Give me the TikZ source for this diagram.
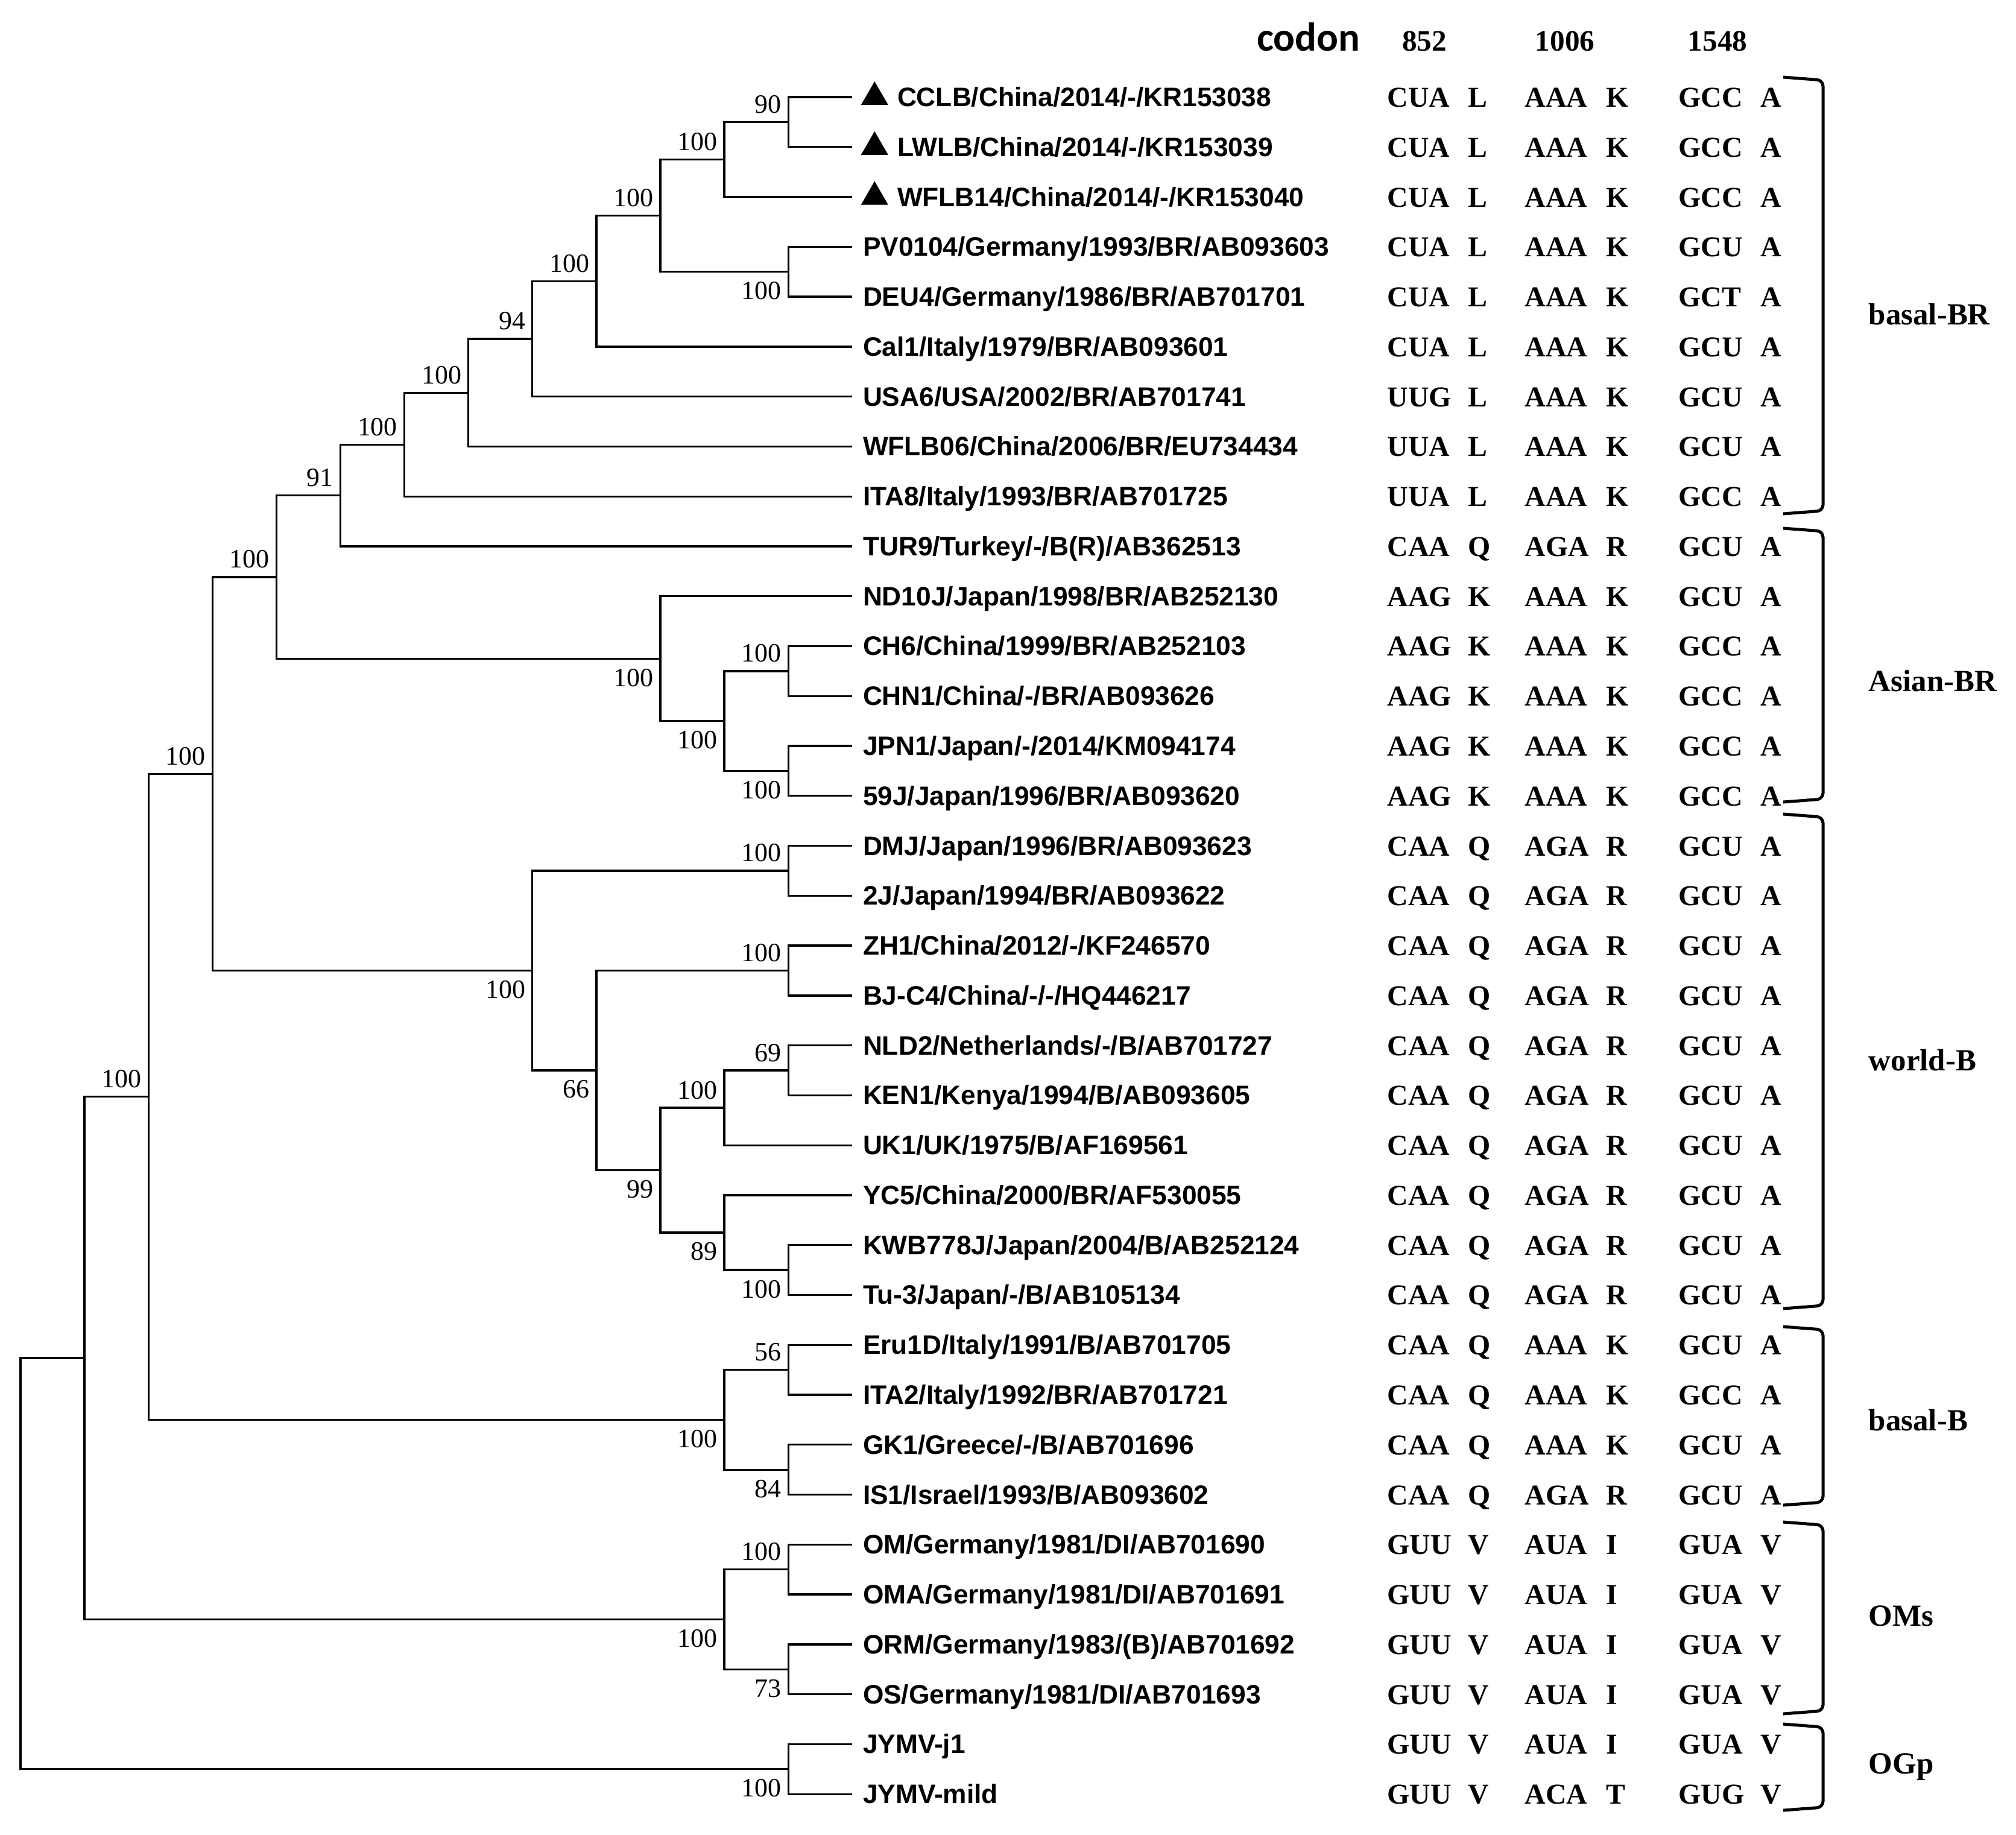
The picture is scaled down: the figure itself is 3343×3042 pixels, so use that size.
\documentclass[tikz,border=0pt]{standalone}
\usepackage{fontspec}
\setmainfont{Liberation Serif}
\setsansfont{Liberation Sans}
\newfontfamily\calibrifont{Carlito}
\usetikzlibrary{calc,positioning,shapes.geometric}
\tikzset{
    branch/.style = {
        line width=0.33mm,
        },
    taxon/.style = {
        anchor=base west,
        inner sep=0pt,
        yshift=-1.55mm,
        font=\sffamily\bfseries\fontsize{12.6}{14}\selectfont,
        },
    new isolate/.style = {
        regular polygon,
        regular polygon sides=3,
        fill=black,
        inner sep=0pt,
        minimum size=5.2mm,
        },
    boot above/.style = {
        anchor=base east,
        inner sep=0pt,
        xshift=-1.1mm,
        yshift=1.5mm,
        font=\fontsize{12.5}{14}\selectfont,
        },
    boot below/.style = {
        anchor=north east,
        inner sep=0pt,
        xshift=-1.1mm,
        yshift=-1.6mm,
        font=\fontsize{12.5}{14}\selectfont,
        },
    codon/.style = {
        anchor=base west,
        inner sep=0pt,
        yshift=-1.65mm,
        font=\bfseries\fontsize{13.6}{16}\selectfont,
        },
    site/.style = {
        anchor=base,
        inner sep=0pt,
        font=\bfseries\fontsize{14}{16}\selectfont,
        },
    clade/.style = {
        line width=0.5mm,
        rounded corners=1mm,
        },
    clade name/.style = {
        anchor=base west,
        inner sep=0pt,
        font=\bfseries\fontsize{14.5}{16}\selectfont,
        },
}

\begin{document}
\begin{tikzpicture}[x=0.1mm, y=-0.1mm]
    \useasboundingbox (0,0) rectangle (3343,3042);

    % tree: x = level, y = row
    \begin{scope}[shift={(34,161)}, x=10.61mm, y=-8.277mm]
        \foreach \row in {0,...,34}
            \coordinate (tip\row) at (13,\row);
        \coordinate (cl) at (12,0.5);
        \coordinate (chn) at (11,1.25);
        \coordinate (deu) at (12,3.5);
        \coordinate (br4) at (10,2.375);
        \coordinate (br5) at (9,3.6875);
        \coordinate (br6) at (8,4.84375);
        \coordinate (br7) at (7,5.921875);
        \coordinate (br8) at (6,6.9609375);
        \coordinate (basalBR) at (5,7.98046875);
        \coordinate (ch6) at (12,11.5);
        \coordinate (jpn) at (12,13.5);
        \coordinate (asJ) at (11,12.5);
        \coordinate (asianBR) at (10,11.25);
        \coordinate (BR) at (4,9.615234);
        \coordinate (dmj) at (12,15.5);
        \coordinate (zh1) at (12,17.5);
        \coordinate (nld) at (12,19.5);
        \coordinate (uk) at (11,20.25);
        \coordinate (kwb) at (12,23.5);
        \coordinate (yc5) at (11,22.75);
        \coordinate (wb3) at (10,21.5);
        \coordinate (wb2) at (9,19.5);
        \coordinate (worldB) at (8,17.5);
        \coordinate (BRB) at (3,13.557617);
        \coordinate (eru) at (12,25.5);
        \coordinate (gk1) at (12,27.5);
        \coordinate (basalB) at (11,26.5);
        \coordinate (ingroup) at (2,20.028809);
        \coordinate (om) at (12,29.5);
        \coordinate (orm) at (12,31.5);
        \coordinate (oms) at (11,30.5);
        \coordinate (bymv) at (1,25.264404);
        \coordinate (ogp) at (12,33.5);
        \coordinate (root) at (0,29.382202);

        \draw[branch] (tip0) -| (cl) |- (tip1);
        \draw[branch] (cl) -| (chn) |- (tip2);
        \draw[branch] (tip3) -| (deu) |- (tip4);
        \draw[branch] (chn) -| (br4) |- (deu);
        \draw[branch] (br4) -| (br5) |- (tip5);
        \draw[branch] (br5) -| (br6) |- (tip6);
        \draw[branch] (br6) -| (br7) |- (tip7);
        \draw[branch] (br7) -| (br8) |- (tip8);
        \draw[branch] (br8) -| (basalBR) |- (tip9);
        \draw[branch] (tip11) -| (ch6) |- (tip12);
        \draw[branch] (tip13) -| (jpn) |- (tip14);
        \draw[branch] (ch6) -| (asJ) |- (jpn);
        \draw[branch] (tip10) -| (asianBR) |- (asJ);
        \draw[branch] (basalBR) -| (BR) |- (asianBR);
        \draw[branch] (tip15) -| (dmj) |- (tip16);
        \draw[branch] (tip17) -| (zh1) |- (tip18);
        \draw[branch] (tip19) -| (nld) |- (tip20);
        \draw[branch] (nld) -| (uk) |- (tip21);
        \draw[branch] (tip23) -| (kwb) |- (tip24);
        \draw[branch] (tip22) -| (yc5) |- (kwb);
        \draw[branch] (uk) -| (wb3) |- (yc5);
        \draw[branch] (zh1) -| (wb2) |- (wb3);
        \draw[branch] (dmj) -| (worldB) |- (wb2);
        \draw[branch] (BR) -| (BRB) |- (worldB);
        \draw[branch] (tip25) -| (eru) |- (tip26);
        \draw[branch] (tip27) -| (gk1) |- (tip28);
        \draw[branch] (eru) -| (basalB) |- (gk1);
        \draw[branch] (BRB) -| (ingroup) |- (basalB);
        \draw[branch] (tip29) -| (om) |- (tip30);
        \draw[branch] (tip31) -| (orm) |- (tip32);
        \draw[branch] (om) -| (oms) |- (orm);
        \draw[branch] (ingroup) -| (bymv) |- (oms);
        \draw[branch] (tip33) -| (ogp) |- (tip34);
        \draw[branch] (bymv) -| (root) |- (ogp);
    \end{scope}

    % bootstrap values
    \foreach \nd/\bv in {cl/90, chn/100, br4/100, br5/100, br6/94, br7/100,
        br8/100, basalBR/91, ch6/100, BR/100, dmj/100, zh1/100, nld/69,
        uk/100, BRB/100, eru/56, ingroup/100, om/100}
        \node[boot above] (bs-\nd) at (\nd) {\bv};
    \foreach \nd/\bv in {deu/100, jpn/100, asJ/100, asianBR/100, kwb/100,
        yc5/89, wb3/99, wb2/66, worldB/100, gk1/84, basalB/100, orm/73,
        oms/100, ogp/100}
        \node[boot below] (bs-\nd) at (\nd) {\bv};

    % columns
    \coordinate (colA) at (2300,0);
    \coordinate (resA) at (2434,0);
    \coordinate (colB) at (2528,0);
    \coordinate (resB) at (2663,0);
    \coordinate (colC) at (2783,0);
    \coordinate (resC) at (2919,0);

    \node[anchor=base east, inner sep=0pt, font=\calibrifont\bfseries\fontsize{19}{22}\selectfont] (codonhead) at (2256,84) {codon};
    \node[site] (site852) at (2362,84) {852};
    \node[site] (site1006) at (2595,84) {1006};
    \node[site] (site1548) at (2848,84) {1548};

    \foreach \row/\lab/\codA/\resA/\codB/\resB/\codC/\resC in {
        0/{CCLB/China/2014/-/KR153038}/CUA/L/AAA/K/GCC/A,
        1/{LWLB/China/2014/-/KR153039}/CUA/L/AAA/K/GCC/A,
        2/{WFLB14/China/2014/-/KR153040}/CUA/L/AAA/K/GCC/A,
        3/{PV0104/Germany/1993/BR/AB093603}/CUA/L/AAA/K/GCU/A,
        4/{DEU4/Germany/1986/BR/AB701701}/CUA/L/AAA/K/GCT/A,
        5/{Cal1/Italy/1979/BR/AB093601}/CUA/L/AAA/K/GCU/A,
        6/{USA6/USA/2002/BR/AB701741}/UUG/L/AAA/K/GCU/A,
        7/{WFLB06/China/2006/BR/EU734434}/UUA/L/AAA/K/GCU/A,
        8/{ITA8/Italy/1993/BR/AB701725}/UUA/L/AAA/K/GCC/A,
        9/{TUR9/Turkey/-/B(R)/AB362513}/CAA/Q/AGA/R/GCU/A,
        10/{ND10J/Japan/1998/BR/AB252130}/AAG/K/AAA/K/GCU/A,
        11/{CH6/China/1999/BR/AB252103}/AAG/K/AAA/K/GCC/A,
        12/{CHN1/China/-/BR/AB093626}/AAG/K/AAA/K/GCC/A,
        13/{JPN1/Japan/-/2014/KM094174}/AAG/K/AAA/K/GCC/A,
        14/{59J/Japan/1996/BR/AB093620}/AAG/K/AAA/K/GCC/A,
        15/{DMJ/Japan/1996/BR/AB093623}/CAA/Q/AGA/R/GCU/A,
        16/{2J/Japan/1994/BR/AB093622}/CAA/Q/AGA/R/GCU/A,
        17/{ZH1/China/2012/-/KF246570}/CAA/Q/AGA/R/GCU/A,
        18/{BJ-C4/China/-/-/HQ446217}/CAA/Q/AGA/R/GCU/A,
        19/{NLD2/Netherlands/-/B/AB701727}/CAA/Q/AGA/R/GCU/A,
        20/{KEN1/Kenya/1994/B/AB093605}/CAA/Q/AGA/R/GCU/A,
        21/{UK1/UK/1975/B/AF169561}/CAA/Q/AGA/R/GCU/A,
        22/{YC5/China/2000/BR/AF530055}/CAA/Q/AGA/R/GCU/A,
        23/{KWB778J/Japan/2004/B/AB252124}/CAA/Q/AGA/R/GCU/A,
        24/{Tu-3/Japan/-/B/AB105134}/CAA/Q/AGA/R/GCU/A,
        25/{Eru1D/Italy/1991/B/AB701705}/CAA/Q/AAA/K/GCU/A,
        26/{ITA2/Italy/1992/BR/AB701721}/CAA/Q/AAA/K/GCC/A,
        27/{GK1/Greece/-/B/AB701696}/CAA/Q/AAA/K/GCU/A,
        28/{IS1/Israel/1993/B/AB093602}/CAA/Q/AGA/R/GCU/A,
        29/{OM/Germany/1981/DI/AB701690}/GUU/V/AUA/I/GUA/V,
        30/{OMA/Germany/1981/DI/AB701691}/GUU/V/AUA/I/GUA/V,
        31/{ORM/Germany/1983/(B)/AB701692}/GUU/V/AUA/I/GUA/V,
        32/{OS/Germany/1981/DI/AB701693}/GUU/V/AUA/I/GUA/V,
        33/{JYMV-j1}/GUU/V/AUA/I/GUA/V,
        34/{JYMV-mild}/GUU/V/ACA/T/GUG/V}
    {
        \ifnum\row<3
            \node[new isolate] (mark\row) at ([xshift=3.7mm]tip\row) {};
            \node[taxon] (taxon\row) at ([xshift=7.4mm]tip\row) {\lab};
        \else
            \node[taxon] (taxon\row) at ([xshift=1.7mm]tip\row) {\lab};
        \fi
        \node[codon] (cA\row) at (tip\row -| colA) {\codA};
        \node[codon] (rA\row) at (tip\row -| resA) {\resA};
        \node[codon] (cB\row) at (tip\row -| colB) {\codB};
        \node[codon] (rB\row) at (tip\row -| resB) {\resB};
        \node[codon] (cC\row) at (tip\row -| colC) {\codC};
        \node[codon] (rC\row) at (tip\row -| resC) {\resC};
    }

    % clade brackets
    \foreach \ytop/\ybot/\ymid/\grp [count=\k] in {128/852/522/basal-BR,
        876/1330/1130/Asian-BR, 1350/2170/1759/world-B,
        2200/2496/2356/basal-B, 2524/2842/2680/OMs, 2859/3002/2925/OGp}
    {
        \draw[clade] (2957,\ytop) -- (3023,\ytop+5) -- (3023,\ybot-5) -- (2957,\ybot);
        \node[clade name] (clade\k) at (3098,\ymid+16) {\grp};
    }
\end{tikzpicture}
\end{document}
